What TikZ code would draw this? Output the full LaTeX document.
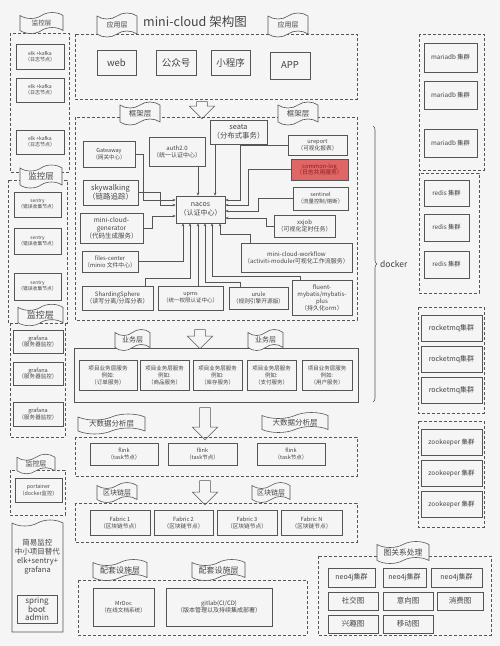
\documentclass[tikz,border=0pt]{standalone}
\usepackage{fontspec}
\setmainfont{Noto Sans CJK SC}
\usepackage{tikz}
\usetikzlibrary{shapes.symbols,shapes.arrows,arrows.meta,decorations.pathreplacing,positioning}
\definecolor{bgcol}{HTML}{F5F5F5}
\definecolor{linecol}{HTML}{555555}
\definecolor{txtcol}{HTML}{444444}
\definecolor{logred}{HTML}{E06666}
\definecolor{logtxt}{HTML}{8A1C1C}
\newcommand{\fsz}[2]{\fontsize{#1}{#2}\selectfont}

\begin{document}
\begin{tikzpicture}[x=1pt, y=-1pt,
    box/.style={draw=linecol, fill=bgcol, text=txtcol, align=center, inner sep=0.5pt, line width=0.6pt, font=\fsz{6}{7}},
    sz/.style 2 args={minimum width=#1, minimum height=#2},
    dbox/.style={draw=linecol, line width=0.6pt, dash pattern=on 3pt off 2pt},
    flag/.style={tape, draw=linecol, fill=bgcol, text=txtcol, line width=0.6pt, tape bend height=6pt, inner sep=0.5pt, font=\fsz{7}{8}},
    conn/.style={draw=linecol, line width=0.6pt, -{Stealth[length=3pt,width=2.6pt]}},
    down/.style={single arrow, draw=linecol, fill=bgcol, line width=0.6pt, shape border rotate=270, inner sep=5pt, single arrow head extend=7pt, single arrow head indent=0pt}]
    \fill[bgcol] (0,0) rectangle (500,646);
    \useasboundingbox (0,0) rectangle (500,646);

    \draw[dbox] (10,33) rectangle (69,172);
    \draw[dbox] (8,180) rectangle (67,323);
    \draw[dbox] (10,323) rectangle (65,437);
    \draw[dbox] (10,470) rectangle (65,515);
    \node[flag, sz={43}{21}, font=\fsz{6.5}{7}] (mon1) at (41.5,23) {监控层};
    \node[flag, sz={42}{23}, font=\fsz{8.5}{9}] (mon2) at (41,176.5) {监控层};
    \node[flag, sz={45}{21}, font=\fsz{9}{9}] (mon3) at (40.5,315) {监控层};
    \node[flag, sz={38}{19}, font=\fsz{7}{7}] (mon4) at (36,464) {监控层};
    \node[box, sz={48}{25}, font=\fsz{5}{6.2}] (elk1) at (40,56.5) {elk +kafka\\（日志节点）};
    \node[box, sz={48}{24}, font=\fsz{5}{6.2}] (elk2) at (40,90) {elk +kafka\\（日志节点）};
    \node[box, sz={48}{24}, font=\fsz{5}{6.2}] (elk3) at (40,142) {elk +kafka\\（日志节点）};
    \node[box, sz={47}{25}, font=\fsz{4.8}{6}] (sentry1) at (37.5,204.5) {sentry\\（错误收集节点）};
    \node[box, sz={47}{26}, font=\fsz{4.8}{6}] (sentry2) at (37.5,241) {sentry\\（错误收集节点）};
    \node[box, sz={47}{27}, font=\fsz{4.8}{6}] (sentry3) at (37.5,286.5) {sentry\\（错误收集节点）};
    \node[box, sz={50}{23}, font=\fsz{5.5}{6.5}] (grafana1) at (38,341.5) {grafana\\（服务器监控）};
    \node[box, sz={50}{23}, font=\fsz{5.5}{6.5}] (grafana2) at (38,373.5) {grafana\\（服务器监控）};
    \node[box, sz={50}{24}, font=\fsz{5.5}{6.5}] (grafana3) at (38,414) {grafana\\（服务器监控）};
    \node[box, sz={47}{24}, font=\fsz{5.3}{6.5}] (portainer) at (38.5,490) {portainer\\（docker监控）};
    \node[flag, tape bend bottom=none, sz={51}{112}] (simple) at (37.5,579) {};
    \node[text=txtcol, align=center, font=\fsz{7.5}{9}] (simpletxt) at (37.5,557) {简易监控\\中小项目替代\\elk+sentry+\\grafana};
    \node[box, sz={40}{28}, font=\fsz{8}{8.5}] (sba) at (37,609) {spring\\boot\\admin};

    \node[text=txtcol, font=\fsz{12.5}{15}] (title) at (195,22) {mini-cloud 架构图};
    \draw[dbox] (75,34) rectangle (357,99);
    \node[flag, sz={40}{24}] (app1) at (117,25) {应用层};
    \node[flag, sz={40}{24}] (app2) at (288,25) {应用层};
    \node[box, sz={39}{25}, font=\fsz{9.5}{11}] (web) at (116.5,62.5) {web};
    \node[box, sz={40}{25}, font=\fsz{9.5}{11}] (gzh) at (176,62.5) {公众号};
    \node[box, sz={39}{25}, font=\fsz{9.5}{11}] (xcx) at (230.5,62.5) {小程序};
    \node[box, sz={40}{27}, font=\fsz{9.5}{11}] (appx) at (290,65.5) {APP};
    \node[down, sz={25}{17}] (arr1) at (202,107.5) {};

    \draw[dbox] (75,117) rectangle (357,320);
    \node[flag, sz={40}{23}, font=\fsz{7.5}{8}] (frame1) at (140,113.5) {框架层};
    \node[flag, sz={40}{23}, font=\fsz{7.5}{8}] (frame2) at (298,113.5) {框架层};
    \node[box, sz={57}{24}, font=\fsz{7.4}{8.5}] (seata) at (238.5,132) {seata\\（分布式事务）};
    \node[box, sz={52}{26}, font=\fsz{5.5}{7}] (gateway) at (109,154) {Gateaway\\（网关中心）};
    \node[box, sz={56}{29}] (auth) at (177,151.5) {auth2.0\\（统一认证中心）};
    \node[box, sz={59}{20}, font=\fsz{5.7}{6.8}] (ureport) at (317.5,145) {ureport\\（可视化报表）};
    \node[box, sz={57}{21}, fill=logred, text=logtxt, font=\fsz{5.8}{6.8}] (clog) at (319.5,169.5) {common-log\\（日志共用服务）};
    \node[box, sz={55}{25}, font=\fsz{7.5}{9}] (sky) at (110.5,192.5) {skywalking\\（链路追踪）};
    \node[box, sz={49}{27}, font=\fsz{7}{8.5}] (nacos) at (200.5,209.5) {nacos\\（认证中心）};
    \node[box, sz={55}{23}, font=\fsz{5.4}{6.8}] (sentinel) at (320.5,198.5) {sentinel\\（流量控制/熔断）};
    \node[box, sz={63}{30}, font=\fsz{6.5}{8}] (generator) at (111.5,228) {mini-cloud-\\generator\\（代码生成服务）};
    \node[box, sz={61}{22}] (xxjob) at (304.5,226) {xxjob\\（可视化定时任务）};
    \node[box, sz={56}{21}, font=\fsz{5.8}{7}] (files) at (110,261.5) {files-center\\（minio 文件中心）};
    \node[box, sz={111}{29}] (workflow) at (296.5,257.5) {mini-cloud-workflow\\（activiti-moduler可视化工作流服务）};
    \node[box, sz={71}{24}] (sharding) at (117.5,298) {ShardingSphere\\（读写分离/分库分表）};
    \node[box, sz={65}{24}, font=\fsz{5.5}{7}] (upms) at (190.5,298) {upms\\（统一权限认证中心）};
    \node[box, sz={59}{22}, font=\fsz{5.7}{7}] (urule) at (258.5,298) {urule\\（规则引擎开源版）};
    \node[box, sz={60}{35}] (fluent) at (322,297.5) {fluent-\\mybatis/mybatis-\\plus\\（持久化orm）};

    \draw[conn] (gateway.east) -- ++(8,0) |- (nacos.west |- 0,200);
    \draw[conn] (sky.east) -- (160,192.5) |- (nacos.west |- 0,205);
    \draw[conn] (generator.east) -- (152,228) |- (nacos.west |- 0,216);
    \draw[conn] (auth.south -| 198,0) -- (nacos.north -| 198,0);
    \draw[conn] (seata.south -| 215,0) -- (nacos.north -| 215,0);
    \draw[conn] (ureport.west) -- (240,145) |- (nacos.east |- 0,200);
    \draw[conn] (clog.west) -- (248,169.5) |- (nacos.east |- 0,205);
    \draw[conn] (sentinel.west) -- (258,198.5) |- (nacos.east |- 0,211);
    \draw[conn] (xxjob.west) -- (266,226) |- (nacos.east |- 0,218);
    \draw[conn] (workflow.north -| 250,0) -- (250,234) -| (nacos.south -| 220,0);
    \draw[conn] (files.east) -| (nacos.south -| 183,0);
    \draw[conn] (sharding.north -| 145,0) -- (145,278) -| (nacos.south -| 190,0);
    \draw[conn] (upms.north -| 198,0) -- (nacos.south -| 198,0);
    \draw[conn] (urule.north -| 240,0) -- (240,282) -| (nacos.south -| 205,0);
    \draw[conn] (fluent.north -| 300,0) -- (300,276) -| (nacos.south -| 212,0);

    \node[down, sz={25}{19}] (arr2) at (200,336.5) {};
    \draw[draw=linecol, line width=0.6pt] (74,348) rectangle (358,402);
    \node[flag, sz={35}{21}] (biz1) at (132.5,340) {业务层};
    \node[flag, sz={35}{21}] (biz2) at (265.5,340) {业务层};
    \node[box, sz={58}{30}, font=\fsz{5.6}{7}] (svc1) at (108,375) {项目业务层服务\\例如:\\（订单服务）};
    \node[box, sz={49}{30}, font=\fsz{5.5}{7}] (svc2) at (164.5,375) {项目业务层服务\\例如:\\（商品服务）};
    \node[box, sz={49}{30}, font=\fsz{5.5}{7}] (svc3) at (217.5,375) {项目业务层服务\\例如:\\（库存服务）};
    \node[box, sz={49}{30}, font=\fsz{5.5}{7}] (svc4) at (271.5,375) {项目业务层服务\\例如:\\（支付服务）};
    \node[box, sz={50}{30}, font=\fsz{5.5}{7}] (svc5) at (327,375) {项目业务层服务\\例如:\\（用户服务）};

    \node[down, sz={25}{32}] (arr3) at (205,421) {};
    \draw[dbox] (75,437) rectangle (357,476);
    \node[flag, sz={67}{19}, font=\fsz{7.5}{8}] (bd1) at (111.5,424) {大数据分析层};
    \node[flag, sz={66}{20}, font=\fsz{7.5}{8}] (bd2) at (295,422.5) {大数据分析层};
    \node[box, sz={68}{22}, font=\fsz{5.5}{6.8}] (flink1) at (124,454) {flink\\（task节点）};
    \node[box, sz={69}{22}, font=\fsz{5.5}{6.8}] (flink2) at (202.5,454) {flink\\（task节点）};
    \node[box, sz={68}{22}, font=\fsz{5.5}{6.8}] (flink3) at (291,454) {flink\\（task节点）};

    \node[down, sz={25}{24}] (arr4) at (205,490) {};
    \draw[dbox] (75,503) rectangle (357,542);
    \node[flag, sz={40}{20}] (bc1) at (117,492.5) {区块链层};
    \node[flag, sz={38}{20}] (bc2) at (271,492.5) {区块链层};
    \node[box, sz={60}{25}, font=\fsz{5.7}{7}] (fab1) at (120,522.5) {Fabric 1\\（区块链节点）};
    \node[box, sz={59}{25}, font=\fsz{5.7}{7}] (fab2) at (183.5,522.5) {Fabric 2\\（区块链节点）};
    \node[box, sz={60}{25}, font=\fsz{5.7}{7}] (fab3) at (247,522.5) {Fabric 3\\（区块链节点）};
    \node[box, sz={61}{25}, font=\fsz{5.7}{7}] (fabn) at (311.5,522.5) {Fabric N\\（区块链节点）};

    \draw[dbox] (78,580) rectangle (307,635);
    \node[flag, sz={54}{21}, font=\fsz{8}{9}] (cf1) at (120,570) {配套设施层};
    \node[flag, sz={53}{21}, font=\fsz{8}{9}] (cf2) at (218.5,570) {配套设施层};
    \node[box, sz={61}{38}, font=\fsz{5.6}{7}] (mrdoc) at (123.5,607) {MrDoc\\（在线文档系统）};
    \node[box, sz={106}{38}] (gitlab) at (219,607) {gitlab(CI/CD)\\（版本管理以及持续集成部署）};

    \draw[draw=linecol, line width=0.6pt, decorate, decoration={brace, amplitude=4pt}] (373,126) -- (373,402);
    \coordinate (dtip) at (378,264);
    \node[right=2pt of dtip, text=txtcol, inner sep=0pt, font=\fsz{8.5}{10}] (docker) {docker};

    \draw[dbox] (419,34) rectangle (484,170);
    \node[box, sz={53}{29}, font=\fsz{6.3}{7}] (maria1) at (450.5,57.5) {mariadb 集群};
    \node[box, sz={53}{28}, font=\fsz{6.3}{7}] (maria2) at (450.5,95) {mariadb 集群};
    \node[box, sz={53}{28}, font=\fsz{6.3}{7}] (maria3) at (450.5,143) {mariadb 集群};
    \draw[dbox] (419,173) rectangle (479,293);
    \node[box, sz={45}{26}, font=\fsz{6.3}{7}] (redis1) at (446.5,193) {redis 集群};
    \node[box, sz={45}{27}, font=\fsz{6.3}{7}] (redis2) at (446.5,227.5) {redis 集群};
    \node[box, sz={45}{27}, font=\fsz{6.3}{7}] (redis3) at (446.5,264.5) {redis 集群};
    \draw[dbox] (418,307) rectangle (484,413);
    \node[box, sz={61}{26}, font=\fsz{7}{8}] (mq1) at (451.5,328) {rocketmq集群};
    \node[box, sz={61}{26}, font=\fsz{7}{8}] (mq2) at (451.5,359) {rocketmq集群};
    \node[box, sz={61}{26}, font=\fsz{7}{8}] (mq3) at (451.5,390) {rocketmq集群};
    \draw[dbox] (418,421) rectangle (484,527);
    \node[box, sz={61}{26}, font=\fsz{6.5}{7}] (zk1) at (451.5,442) {zookeeper 集群};
    \node[box, sz={61}{26}, font=\fsz{6.5}{7}] (zk2) at (451.5,473) {zookeeper 集群};
    \node[box, sz={61}{26}, font=\fsz{6.5}{7}] (zk3) at (451.5,504) {zookeeper 集群};

    \draw[dbox] (318,556) rectangle (491,635);
    \node[flag, sz={52}{22}, font=\fsz{7.8}{8.5}] (graph) at (403,552.5) {图关系处理};
    \node[box, sz={47}{19}, font=\fsz{7}{8}] (neo1) at (351.5,577.5) {neo4j集群};
    \node[box, sz={43}{19}, font=\fsz{7}{8}] (neo2) at (404.5,577.5) {neo4j集群};
    \node[box, sz={51}{19}, font=\fsz{7}{8}] (neo3) at (456.5,577.5) {neo4j集群};
    \node[box, sz={50}{18}, font=\fsz{7.5}{8}] (social) at (353,601) {社交图};
    \node[box, sz={50}{18}, font=\fsz{7.5}{8}] (intent) at (408,601) {意向图};
    \node[box, sz={46}{18}, font=\fsz{7.5}{8}] (consume) at (460,601) {消费图};
    \node[box, sz={50}{18}, font=\fsz{7.5}{8}] (interest) at (353,624) {兴趣图};
    \node[box, sz={50}{18}, font=\fsz{7.5}{8}] (mobile) at (408,624) {移动图};
\end{tikzpicture}
\end{document}
